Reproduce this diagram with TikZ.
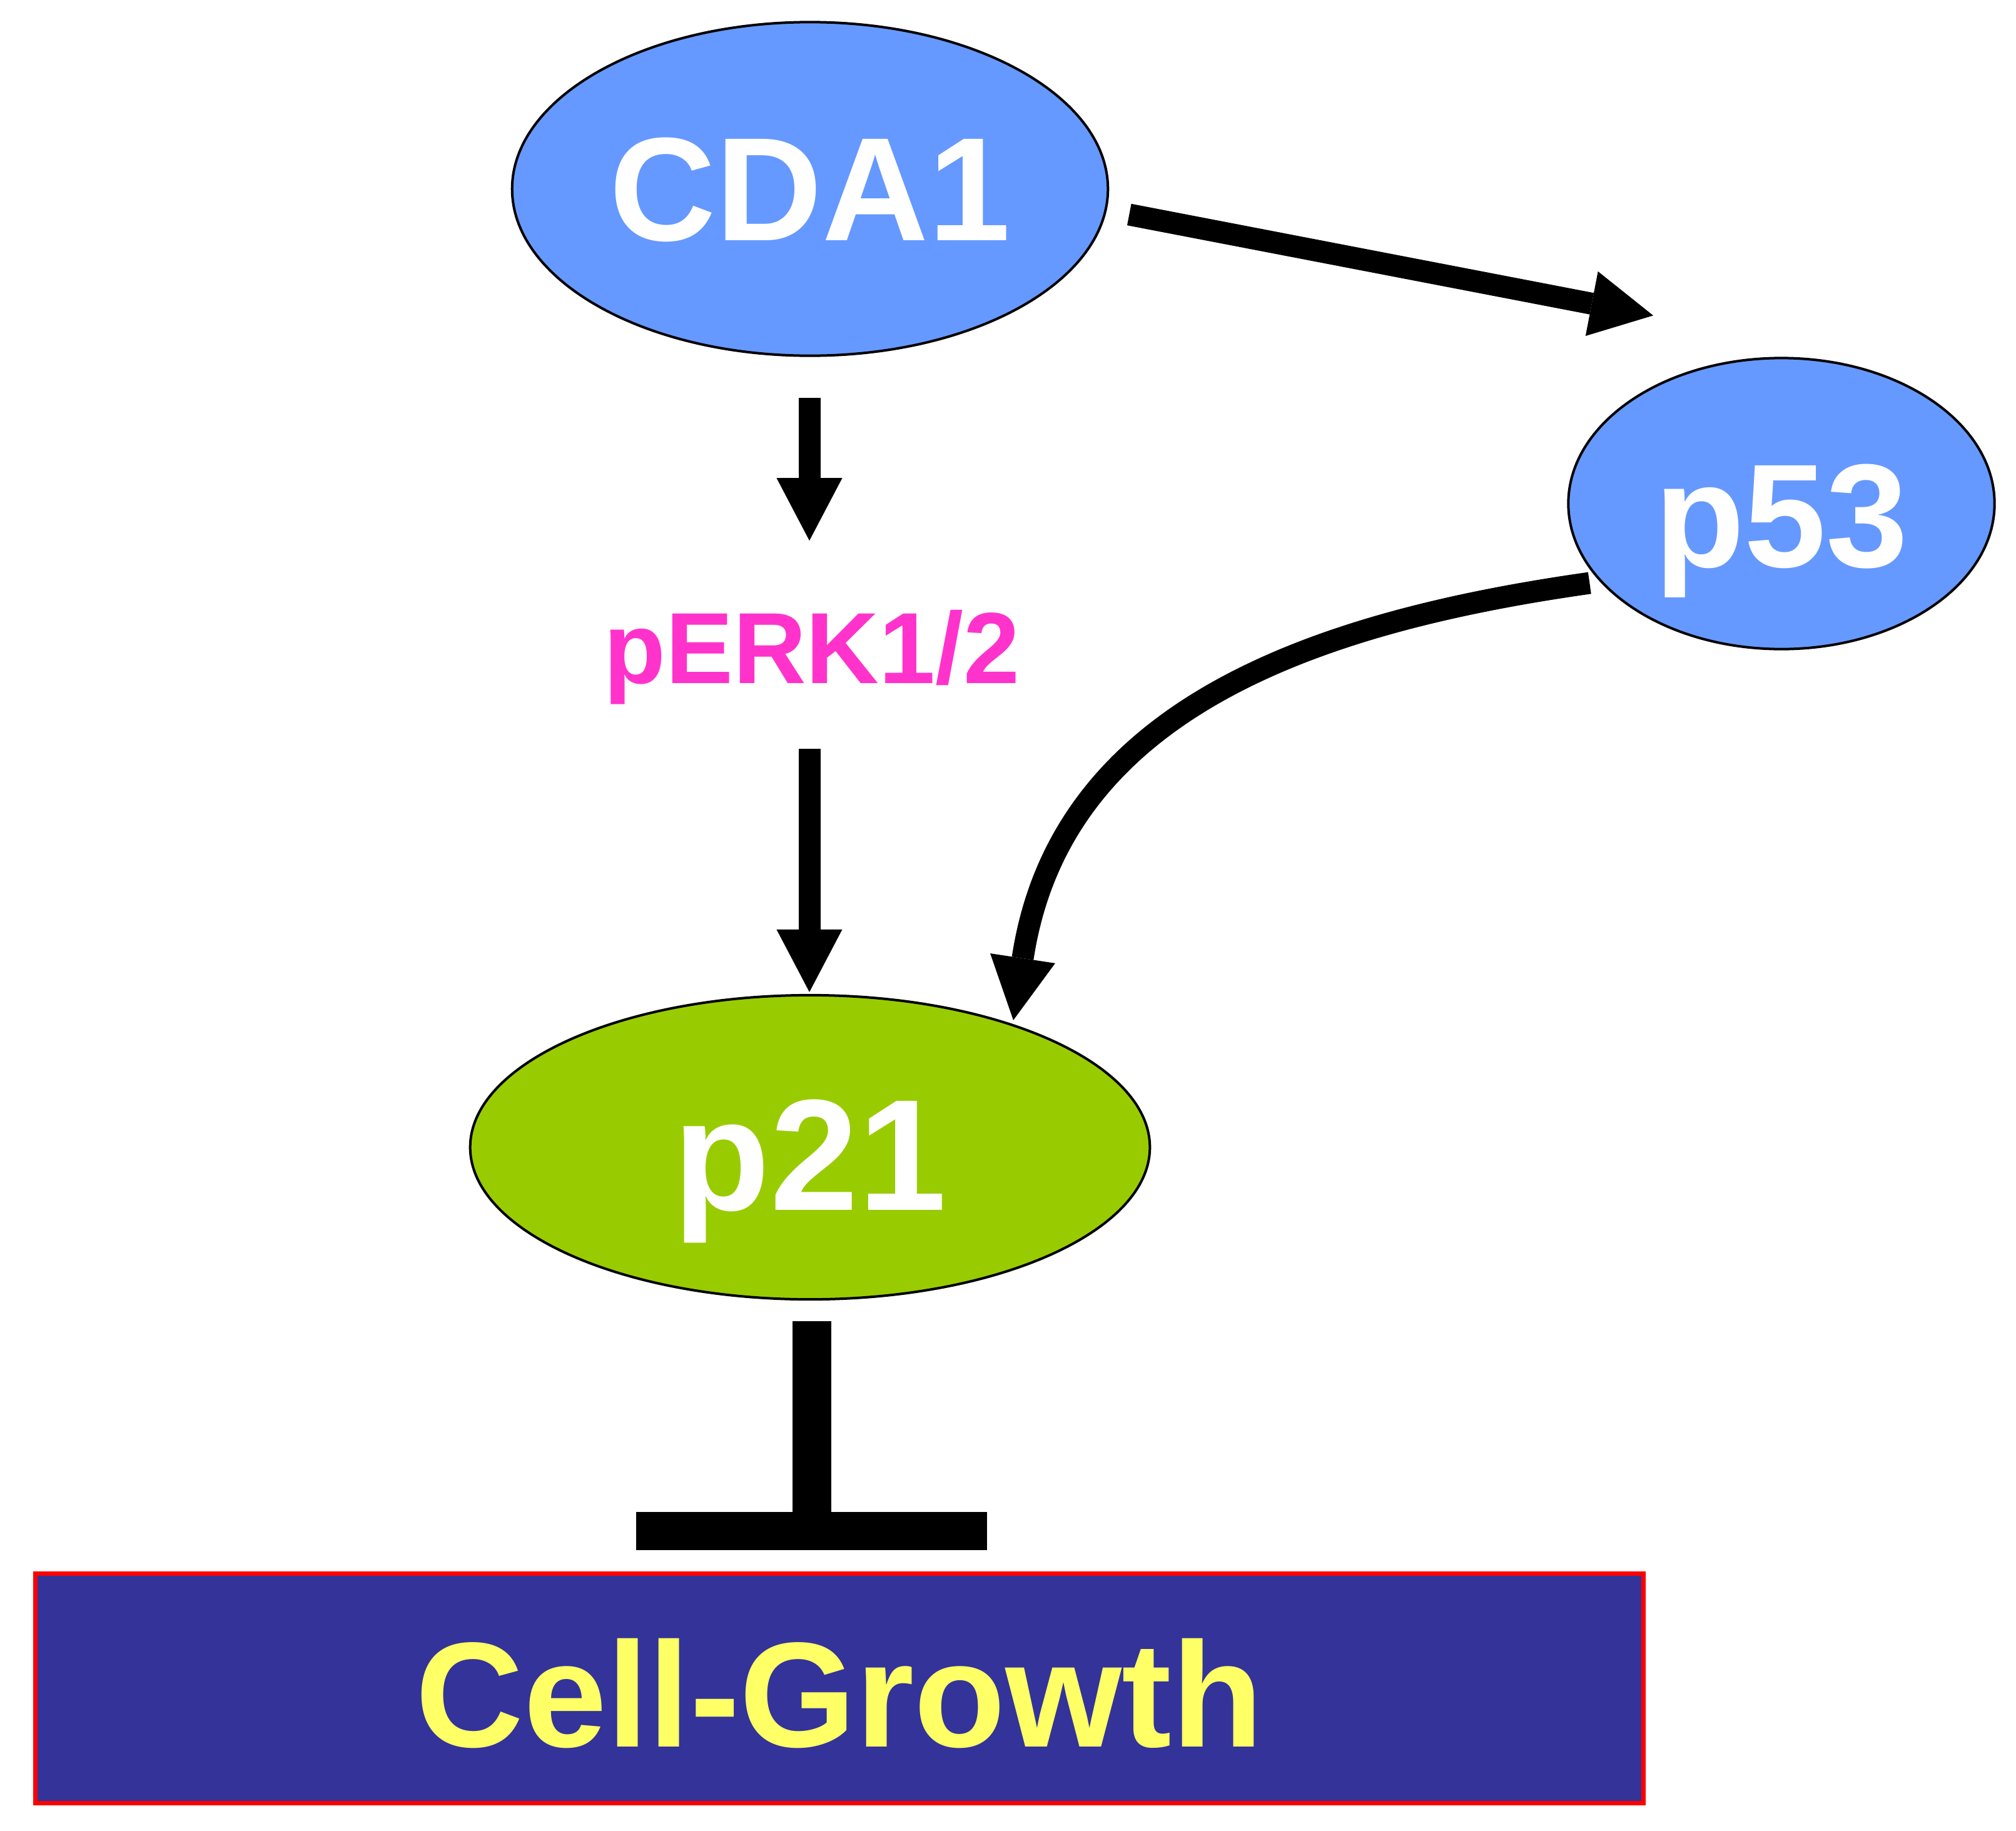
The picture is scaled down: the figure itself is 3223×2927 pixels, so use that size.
\documentclass[tikz,border=0pt]{standalone}
\usepackage{fontspec}
\setmainfont{Liberation Sans}
\usetikzlibrary{arrows.meta,shapes.geometric,calc}
\definecolor{nodeblue}{HTML}{6699FF}
\definecolor{nodegreen}{HTML}{99CC00}
\definecolor{erkpink}{HTML}{FF33CC}
\definecolor{cellblue}{HTML}{333399}
\definecolor{cellyellow}{HTML}{FFFF66}
\begin{document}
\begin{tikzpicture}[x=0.01cm,y=-0.01cm,
  prot/.style={ellipse, draw=black, line width=0.04cm, inner sep=0pt, text=white,
    font=\bfseries\fontsize{67pt}{70pt}\selectfont, text depth=0pt},
  act/.style={line width=0.35cm, -{Triangle[length=1cm,width=1.05cm,line width=0pt]}},
  inhib/.style={line width=0.62cm},
  cellbox/.style={rectangle, draw=red, line width=0.07cm, fill=cellblue, inner sep=0pt,
    text=cellyellow, font=\bfseries\fontsize{68pt}{70pt}\selectfont}
]
\useasboundingbox (0,0) rectangle (3223,2927);

\node[prot, fill=nodeblue, minimum width=9.52cm, minimum height=5.33cm, text height=1.64cm] (CDA1) at (1295,302) {CDA1};
\node[prot, fill=nodeblue, minimum width=6.81cm, minimum height=4.65cm, text height=2.02cm] (p53) at (2848,805) {p53};
\node[prot, fill=nodegreen, minimum width=10.86cm, minimum height=4.86cm, text height=2.0cm,
  font=\bfseries\fontsize{72pt}{75pt}\selectfont] (p21) at (1295,1834) {p21};
\node[anchor=base, inner sep=0pt, text=erkpink, font=\bfseries\fontsize{46pt}{50pt}\selectfont,
  text height=1.16cm, text depth=0.33cm] (pERK) at (1298,1092) {pERK1/2};
\node[cellbox, minimum width=25.69cm, minimum height=3.66cm, text height=1.86cm, text depth=0pt] (cell) at (1342,2699) {Cell-Growth};

\draw[act] ($(CDA1.south)+(-1,65)$) -- ($(pERK.north)+(-4,-111)$);
\draw[act] ($(pERK.south)+(-4,71)$) -- ($(p21.north)+(-1,-3)$);
\draw[act] ($(CDA1.east)+(32,41)$) -- ($(p53.north)+(-205,-66)$);
\draw[act] ($(p53.west)+(36,127)$) .. controls +(-445,63) and +(75,-495) .. ($(p21.north)+(325,42)$);

\coordinate (barc) at (1298,2448);
\draw[inhib] ($(p21.south)+(3,33)$) -- (barc);
\fill ($(barc)+(-281,-31)$) rectangle ($(barc)+(280,30)$);
\end{tikzpicture}
\end{document}
